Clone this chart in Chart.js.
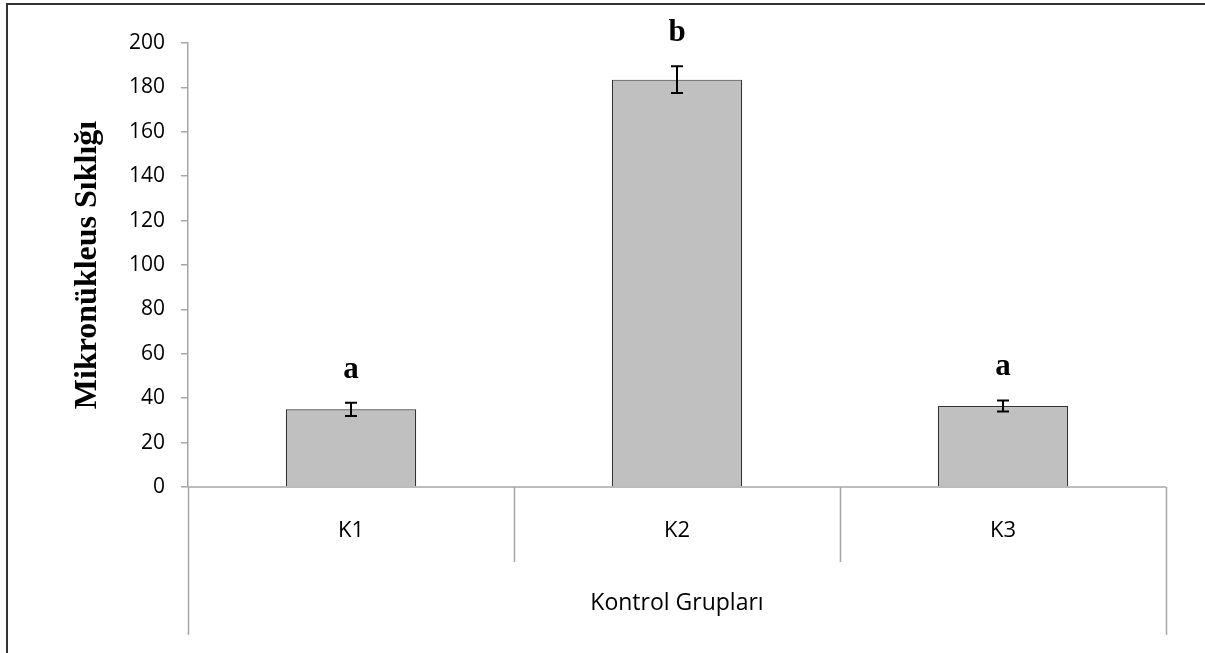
<!DOCTYPE html>
<html>
<head>
<meta charset="utf-8">
<script src="https://cdn.jsdelivr.net/npm/chart.js@4.4.0/dist/chart.umd.min.js"></script>
<style>
  html, body { margin: 0; padding: 0; background: #fff; }
  #wrap { width: 1205px; height: 653px; position: relative; }
</style>
</head>
<body>
<div id="wrap"><canvas id="c" width="1205" height="653"></canvas></div>
<script>
const categories = ['K1', 'K2', 'K3'];
const means = [35, 183.5, 36.5];
const errors = [3, 6, 2.5];
const letters = ['a', 'b', 'a'];
const yMin = 0, yMax = 200, yStep = 20;
const yTitle = 'Mikronükleus Sıklığı';
const xTitle = 'Kontrol Grupları';

const axisGray = '#a6a6a6';

const decorPlugin = {
  id: 'decor',
  afterDatasetsDraw(chart) {
    const ctx = chart.ctx;
    const x = chart.scales.x, y = chart.scales.y;
    ctx.save();
    // baseline at zero
    ctx.strokeStyle = axisGray;
    ctx.lineWidth = 1.5;
    ctx.beginPath();
    ctx.moveTo(chart.chartArea.left, y.getPixelForValue(0));
    ctx.lineTo(chart.chartArea.right, y.getPixelForValue(0));
    ctx.stroke();
    // error bars
    ctx.strokeStyle = '#000';
    ctx.lineWidth = 2;
    means.forEach((m, i) => {
      const cx = x.getPixelForValue(i);
      const top = y.getPixelForValue(m + errors[i]);
      const bot = y.getPixelForValue(m - errors[i]);
      ctx.beginPath();
      ctx.moveTo(cx, top); ctx.lineTo(cx, bot);
      ctx.moveTo(cx - 6, top); ctx.lineTo(cx + 6, top);
      ctx.moveTo(cx - 6, bot); ctx.lineTo(cx + 6, bot);
      ctx.stroke();
      // letters
      ctx.fillStyle = '#000';
      ctx.font = 'bold 31px "Liberation Serif", serif';
      ctx.textAlign = 'center';
      ctx.textBaseline = 'alphabetic';
      ctx.fillText(letters[i], cx, top - 25);
    });
    ctx.restore();
  },
  afterDraw(chart) {
    const ctx = chart.ctx;
    const x = chart.scales.x, y = chart.scales.y;
    const area = chart.chartArea;
    const base = y.getPixelForValue(0);
    const half = (x.getPixelForValue(1) - x.getPixelForValue(0)) / 2;
    ctx.save();
    ctx.strokeStyle = axisGray;
    ctx.lineWidth = 1.5;
    // separators
    for (let i = 0; i <= categories.length; i++) {
      const px = Math.round(x.getPixelForValue(i) - half) + 0.5;
      const outer = (i === 0 || i === categories.length);
      ctx.beginPath();
      ctx.moveTo(px, base);
      ctx.lineTo(px, base + (outer ? 148 : 75));
      ctx.stroke();
    }
    // category labels
    ctx.fillStyle = '#000';
    ctx.font = '22px "Open Sans", sans-serif';
    ctx.textAlign = 'center';
    ctx.textBaseline = 'middle';
    categories.forEach((c, i) => {
      ctx.fillText(c, x.getPixelForValue(i), base + 44);
    });
    // group label
    ctx.font = '23px "Open Sans", sans-serif';
    ctx.fillText(xTitle, (area.left + area.right) / 2, base + 116);
    // y title
    ctx.save();
    ctx.translate(96, (area.top + area.bottom) / 2);
    ctx.rotate(-Math.PI / 2);
    ctx.font = 'bold 32px "Liberation Serif", serif';
    ctx.textAlign = 'center';
    ctx.textBaseline = 'alphabetic';
    ctx.fillText(yTitle, 0, 0);
    ctx.restore();
    // outer frame
    ctx.strokeStyle = '#333';
    ctx.lineWidth = 2;
    ctx.beginPath();
    ctx.moveTo(7, 653);
    ctx.lineTo(7, 4);
    ctx.lineTo(1205, 4);
    ctx.stroke();
    ctx.restore();
  }
};

new Chart(document.getElementById('c'), {
  type: 'bar',
  data: {
    labels: categories,
    datasets: [{
      data: means,
      backgroundColor: '#c0c0c0',
      borderColor: '#333333',
      borderWidth: 1.2,
      barPercentage: 0.4,
      categoryPercentage: 1.0
    }]
  },
  options: {
    responsive: false,
    animation: false,
    devicePixelRatio: 1,
    layout: { padding: { top: 43, right: 39, bottom: 166, left: 0 } },
    plugins: { legend: { display: false }, tooltip: { enabled: false } },
    scales: {
      x: { display: false },
      y: {
        min: yMin, max: yMax,
        afterFit(scale) { scale.width = 188; },
        ticks: {
          stepSize: yStep,
          color: '#000',
          padding: 16,
          font: { family: '"Open Sans", sans-serif', size: 21 }
        },
        grid: { drawOnChartArea: false, drawTicks: true, tickLength: 7, color: axisGray, lineWidth: 1.5 },
        border: { display: true, color: axisGray, width: 1.5 }
      }
    }
  },
  plugins: [decorPlugin]
});
</script>
</body>
</html>
